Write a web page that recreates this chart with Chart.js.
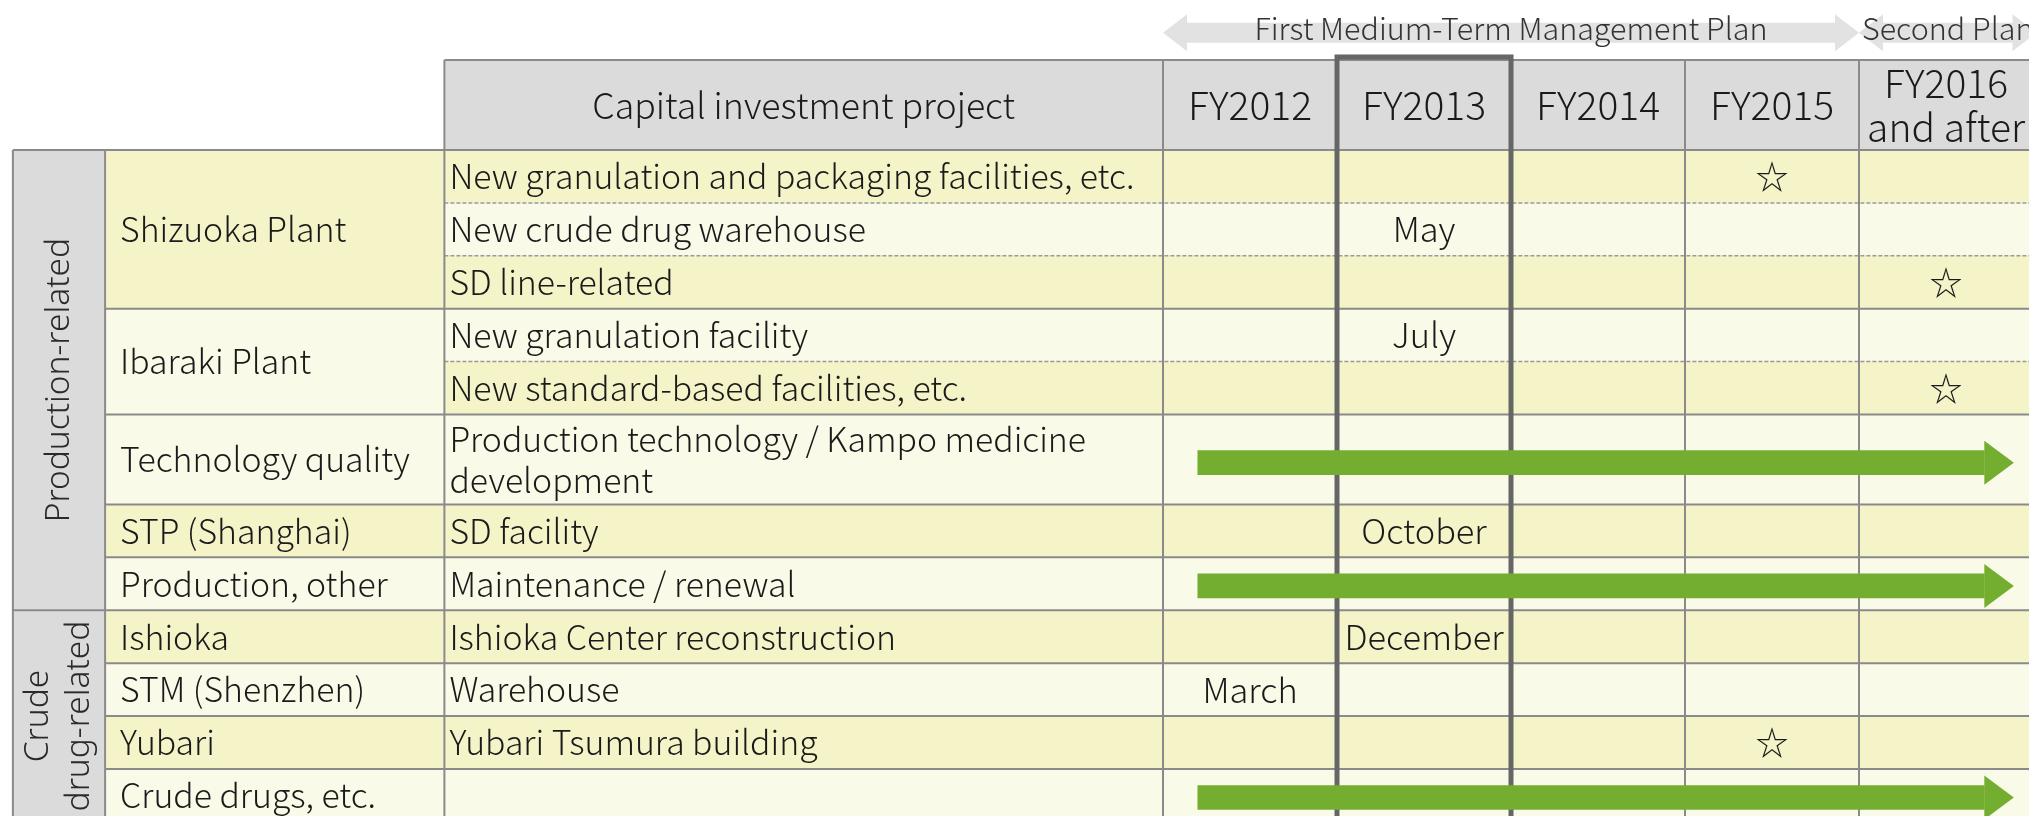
<!DOCTYPE html>
<html>
<head>
<meta charset="utf-8">
<script src="https://cdn.jsdelivr.net/npm/chart.js@4"></script>
<style>
    body { margin: 0; background: #fff; }
    #wrap { width: 2029px; height: 816px; }
</style>
</head>
<body>
<div id="wrap"><canvas id="chart" width="2029" height="816"></canvas></div>
<script>
// columns of the schedule (one x unit = one fiscal year)
const years = ['FY2012', 'FY2013', 'FY2014', 'FY2015', 'FY2016\nand after'];
const projectHeader = 'Capital investment project';

// rows
const groups = ['Production-related', 'Crude\ndrug-related'];
const groupSpans = [8, 4];
const sites = ['Shizuoka Plant', 'Ibaraki Plant', 'Technology quality', 'STP (Shanghai)',
    'Production, other', 'Ishioka', 'STM (Shenzhen)', 'Yubari', 'Crude drugs, etc.'];
const siteSpans = [3, 2, 1, 1, 1, 1, 1, 1, 1];
const projects = ['New granulation and packaging facilities, etc.', 'New crude drug warehouse',
    'SD line-related', 'New granulation facility', 'New standard-based facilities, etc.',
    'Production technology / Kampo medicine\ndevelopment', 'SD facility', 'Maintenance / renewal',
    'Ishioka Center reconstruction', 'Warehouse', 'Yubari Tsumura building', ''];
const rowHeights = [1, 1, 1, 1, 1, 1.7, 1, 1, 1, 1, 1, 1];

// completion months (row index, year index)
const monthRows = [1, 3, 6, 8, 9];
const monthYears = [1, 1, 1, 1, 0];
const monthLabels = ['May', 'July', 'October', 'December', 'March'];

// planned completions (star)
const starRows = [0, 2, 4, 10];
const starYears = [3, 4, 4, 3];

// ongoing investment arrows: row position and span in year units
const arrowRowPos = [5.91, 8.24, 12.24];
const arrowFrom = [0.2, 0.2, 0.2];
const arrowTo = [4.89, 4.89, 4.89];

// medium-term plans
const plans = ['First Medium-Term Management Plan', 'Second Plan'];
const planFrom = [0, 4];
const planTo = [4, 5.02];

// layout
const GROUP_LEFT = -6.61, SITE_LEFT = -6.08, PROJECT_LEFT = -4.13;
const HEADER_TOP = -1.7, PLAN_Y = -2.215, HEAD = 0.17;
const FONT = '"Noto Sans CJK JP", "Source Sans Pro", sans-serif';
const TEXT = '#1a1a1a';
const DARK_ROW = '#f5f4c9', LIGHT_ROW = '#fafae8', GRAY = '#dcdbdc';
const LINE = '#8a8a8a', THICK = '#666666', GREEN = '#74ae30';

const rowTops = [];
let acc = 0;
for (const h of rowHeights) {
    rowTops.push(acc);
    acc += h;
}
const rowMid = (i) => rowTops[i] + rowHeights[i] / 2;
const tableBottom = acc;
const rowColor = (i) => (i % 2 === 0 ? DARK_ROW : LIGHT_ROW);

function drawLines(ctx, lines, x, y, lineHeight) {
    const start = y - (lines.length - 1) * lineHeight / 2;
    lines.forEach((l, i) => ctx.fillText(l, x, start + i * lineHeight));
}

const tablePlugin = {
    id: 'table',
    beforeDatasetsDraw(chart) {
        const {ctx, scales: {x, y}} = chart;
        const X = (v) => x.getPixelForValue(v);
        const Y = (v) => y.getPixelForValue(v);
        const right = X(5);
        ctx.save();

        // plan arrows
        ctx.fillStyle = '#e2e2e2';
        plans.forEach((p, i) => {
            const x0 = X(planFrom[i]), x1 = X(planTo[i]), yc = Y(PLAN_Y);
            const hl = 24, hh = 18.5, sh = 10;
            ctx.beginPath();
            ctx.moveTo(x0, yc);
            ctx.lineTo(x0 + hl, yc - hh);
            ctx.lineTo(x0 + hl, yc - sh);
            ctx.lineTo(x1 - hl, yc - sh);
            ctx.lineTo(x1 - hl, yc - hh);
            ctx.lineTo(x1, yc);
            ctx.lineTo(x1 - hl, yc + hh);
            ctx.lineTo(x1 - hl, yc + sh);
            ctx.lineTo(x0 + hl, yc + sh);
            ctx.lineTo(x0 + hl, yc + hh);
            ctx.closePath();
            ctx.fill();
        });
        ctx.fillStyle = '#333';
        ctx.font = `300 30.5px ${FONT}`;
        ctx.textAlign = 'center';
        ctx.textBaseline = 'middle';
        plans.forEach((p, i) => {
            ctx.fillText(p, (X(planFrom[i]) + X(planTo[i])) / 2, Y(PLAN_Y) - 4);
        });

        // header
        ctx.fillStyle = GRAY;
        ctx.fillRect(X(PROJECT_LEFT), Y(HEADER_TOP), right - X(PROJECT_LEFT), Y(0) - Y(HEADER_TOP));
        // group column
        ctx.fillRect(X(GROUP_LEFT), Y(0), X(SITE_LEFT) - X(GROUP_LEFT), Y(tableBottom) - Y(0));

        // row backgrounds
        rowHeights.forEach((h, i) => {
            ctx.fillStyle = rowColor(i);
            ctx.fillRect(X(PROJECT_LEFT), Y(rowTops[i]), right - X(PROJECT_LEFT), Y(rowTops[i] + h) - Y(rowTops[i]));
        });
        let r = 0;
        siteSpans.forEach((span) => {
            ctx.fillStyle = rowColor(r);
            const top = rowTops[r], bottom = rowTops[r + span - 1] + rowHeights[r + span - 1];
            ctx.fillRect(X(SITE_LEFT), Y(top), X(PROJECT_LEFT) - X(SITE_LEFT), Y(bottom) - Y(top));
            r += span;
        });

        // horizontal lines
        const siteStarts = new Set();
        r = 0;
        siteSpans.forEach((s) => { siteStarts.add(r); r += s; });
        const groupStarts = new Set();
        r = 0;
        groupSpans.forEach((s) => { groupStarts.add(r); r += s; });

        ctx.lineWidth = 2;
        ctx.strokeStyle = LINE;
        const hline = (v, from) => {
            ctx.beginPath();
            ctx.moveTo(X(from), Y(v));
            ctx.lineTo(right, Y(v));
            ctx.stroke();
        };
        hline(HEADER_TOP, PROJECT_LEFT);
        rowTops.forEach((t, i) => {
            if (groupStarts.has(i)) {
                hline(t, GROUP_LEFT);
            } else if (siteStarts.has(i)) {
                hline(t, SITE_LEFT);
            } else {
                ctx.save();
                ctx.lineWidth = 1.5;
                ctx.strokeStyle = '#999';
                ctx.setLineDash([4, 2]);
                hline(t, PROJECT_LEFT);
                ctx.restore();
            }
        });

        // vertical lines
        const vline = (v, top) => {
            ctx.beginPath();
            ctx.moveTo(X(v), Y(top));
            ctx.lineTo(X(v), Y(tableBottom));
            ctx.stroke();
        };
        vline(GROUP_LEFT, 0);
        vline(SITE_LEFT, 0);
        vline(PROJECT_LEFT, HEADER_TOP);
        [0, 3, 4].forEach((v) => vline(v, HEADER_TOP));

        // current year box
        ctx.strokeStyle = THICK;
        ctx.lineWidth = 5;
        ctx.beginPath();
        ctx.moveTo(X(1), Y(tableBottom));
        ctx.lineTo(X(1), Y(HEADER_TOP) - 3);
        ctx.lineTo(X(2), Y(HEADER_TOP) - 3);
        ctx.lineTo(X(2), Y(tableBottom));
        ctx.stroke();

        // texts
        ctx.fillStyle = TEXT;
        ctx.textBaseline = 'middle';
        ctx.textAlign = 'center';
        ctx.font = `300 35.7px ${FONT}`;
        ctx.fillText(projectHeader, (X(PROJECT_LEFT) + X(0)) / 2, Y(HEADER_TOP / 2));
        ctx.font = `300 39px ${FONT}`;
        years.forEach((yr, i) => {
            drawLines(ctx, yr.split('\n'), X(i + 0.5), Y(HEADER_TOP / 2), 44);
        });

        ctx.font = `300 33.8px ${FONT}`;
        ctx.textAlign = 'left';
        projects.forEach((p, i) => {
            drawLines(ctx, p.split('\n'), X(PROJECT_LEFT) + 5, Y(rowMid(i)), 41);
        });
        r = 0;
        sites.forEach((s, i) => {
            const span = siteSpans[i];
            const top = rowTops[r], bottom = rowTops[r + span - 1] + rowHeights[r + span - 1];
            ctx.fillText(s, X(SITE_LEFT) + 15, Y((top + bottom) / 2));
            r += span;
        });

        // rotated group labels
        ctx.font = `300 33.5px "Noto Sans", sans-serif`;
        ctx.textAlign = 'center';
        ctx.fillStyle = '#2a2a2a';
        r = 0;
        groups.forEach((g, i) => {
            const span = groupSpans[i];
            const top = rowTops[r], bottom = rowTops[r + span - 1] + rowHeights[r + span - 1];
            ctx.save();
            ctx.translate((X(GROUP_LEFT) + X(SITE_LEFT)) / 2, Y((top + bottom) / 2));
            ctx.rotate(-Math.PI / 2);
            drawLines(ctx, g.split('\n'), 0, 0, 41);
            ctx.restore();
            r += span;
        });

        ctx.restore();
    },
    afterDatasetsDraw(chart) {
        const {ctx, scales: {x, y}} = chart;
        const X = (v) => x.getPixelForValue(v);
        const Y = (v) => y.getPixelForValue(v);
        ctx.save();

        // arrow heads
        ctx.fillStyle = GREEN;
        arrowRowPos.forEach((pos, i) => {
            const yc = Y(pos);
            ctx.beginPath();
            ctx.moveTo(X(arrowTo[i] - HEAD), yc - 22);
            ctx.lineTo(X(arrowTo[i]), yc);
            ctx.lineTo(X(arrowTo[i] - HEAD), yc + 22);
            ctx.closePath();
            ctx.fill();
        });

        ctx.fillStyle = TEXT;
        ctx.textAlign = 'center';
        ctx.textBaseline = 'middle';
        ctx.font = `300 34.4px ${FONT}`;
        monthRows.forEach((row, i) => {
            ctx.fillText(monthLabels[i], X(monthYears[i] + 0.5), Y(rowMid(row)));
        });
        ctx.font = `33px ${FONT}`;
        starRows.forEach((row, i) => {
            ctx.fillText('\u2606', X(starYears[i] + 0.5), Y(rowMid(row)));
        });
        ctx.restore();
    }
};

new Chart(document.getElementById('chart'), {
    type: 'bar',
    data: {
        datasets: [{
            label: 'Ongoing investment',
            data: arrowRowPos.map((pos, i) => ({y: pos, x: [arrowFrom[i], arrowTo[i] - HEAD]})),
            backgroundColor: GREEN,
            borderWidth: 0,
            barThickness: 24
        }]
    },
    options: {
        indexAxis: 'y',
        responsive: false,
        animation: false,
        devicePixelRatio: 1,
        layout: {padding: 0},
        scales: {
            x: {type: 'linear', min: -6.684, max: 4.977, display: false, offset: false},
            y: {type: 'linear', min: -2.836, max: 12.59, reverse: true, display: false, offset: false}
        },
        plugins: {
            legend: {display: false},
            tooltip: {enabled: false}
        }
    },
    plugins: [tablePlugin]
});
</script>
</body>
</html>
